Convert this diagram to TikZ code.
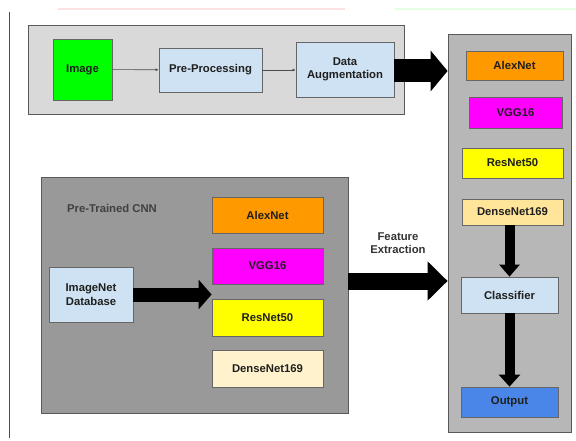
\documentclass[tikz,border=0pt]{standalone}
\usepackage{fontspec}
\setmainfont{Liberation Sans}
\usetikzlibrary{arrows.meta}
\definecolor{lightpanel}{HTML}{D9D9D9}
\definecolor{darkpanel}{HTML}{999999}
\definecolor{midpanel}{HTML}{B7B7B7}
\definecolor{paleblue}{HTML}{CFE2F3}
\definecolor{netorange}{HTML}{FF9900}
\definecolor{netpink}{HTML}{FF00FF}
\definecolor{netyellow}{HTML}{FFFF00}
\definecolor{densedark}{HTML}{FFE599}
\definecolor{denselight}{HTML}{FFF2CC}
\definecolor{outblue}{HTML}{4A86E8}
\begin{document}
\begin{tikzpicture}[x=1pt,y=-1pt,
	every node/.style={font=\fontsize{11.3}{13.5}\selectfont\bfseries, text=black!88},
	panel/.style={draw=black!65, line width=0.8pt, inner sep=0pt},
	block/.style={draw=black!60, line width=0.8pt, inner sep=0pt, align=center},
	thin/.style={draw=black!70, line width=0.6pt, -{Latex[length=3pt,width=3pt]}}]
	\useasboundingbox[fill=white] (0,0) rectangle (576,441);
	% faint strips and side rule
	\draw[red!12, line width=2.5pt] (58,9) -- (345,9);
	\draw[green!10, line width=2.5pt] (395,9) -- (576,9);
	\draw[black!70, line width=0.8pt] (9,12) -- (9,438);
	% panels
	\node[panel, fill=lightpanel, minimum width=376pt, minimum height=89pt] (input) at (216,69.5) {};
	\node[panel, fill=darkpanel, minimum width=307pt, minimum height=236pt] (cnn) at (194.5,295) {};
	\node[panel, fill=midpanel, minimum width=123pt, minimum height=398pt] (models) at (509.5,233) {};
	% input pipeline
	\node[block, fill=green, minimum width=59pt, minimum height=61pt] (img) at (82.5,69.5) {Image};
	\node[block, fill=paleblue, minimum width=103pt, minimum height=44pt] (prep) at (210.5,70) {Pre-Processing};
	\node[block, fill=paleblue, minimum width=98pt, minimum height=55pt] (aug) at (345,69.5) {Data\\Augmentation};
	\draw[thin] (img) -- (prep);
	\draw[thin] (prep) -- (aug.west |- prep.east);
	% pre-trained networks
	\node[text=black!75] (cnnlabel) at (112,208) {Pre-Trained CNN};
	\node[block, fill=paleblue, minimum width=84pt, minimum height=55pt] (imgnet) at (91,294.5) {ImageNet\\Database};
	\node[block, fill=netorange, minimum width=111pt, minimum height=36pt] (alexA) at (267.5,215) {AlexNet};
	\node[block, fill=netpink, minimum width=111pt, minimum height=36pt] (vggA) at (267.5,266) {VGG16};
	\node[block, fill=netyellow, minimum width=111pt, minimum height=37pt] (resA) at (267.5,317.5) {ResNet50};
	\node[block, fill=denselight, minimum width=111pt, minimum height=37pt] (denseA) at (267.5,368.5) {DenseNet169};
	% model column
	\node[block, fill=netorange, minimum width=97pt, minimum height=29pt] (alexB) at (514.5,65.5) {AlexNet};
	\node[block, fill=netpink, minimum width=93pt, minimum height=31pt] (vggB) at (515.5,112.5) {VGG16};
	\node[block, fill=netyellow, minimum width=101pt, minimum height=30pt] (resB) at (512.5,163) {ResNet50};
	\node[block, fill=densedark, minimum width=101pt, minimum height=26pt] (denseB) at (512.5,212) {DenseNet169};
	\node[block, fill=paleblue, minimum width=97pt, minimum height=36pt] (clf) at (509.5,295) {Classifier};
	\node[block, fill=outblue, minimum width=97pt, minimum height=30pt] (out) at (509.5,402) {Output};
	\node[align=center, text=black!80] (felabel) at (398,243) {Feature\\Extraction};
	% big arrows
	\coordinate (augout) at (394,71);
	\coordinate (feout) at (348,281);
	\draw[line width=23pt, -{Triangle[length=17pt,width=40pt]}] (augout) -- (augout -| models.west);
	\draw[line width=14pt, -{Triangle[length=13pt,width=29pt]}] (imgnet.east) -- (alexA.west |- imgnet.east);
	\draw[line width=17pt, -{Triangle[length=20pt,width=38pt]}] (feout) -- (feout -| models.west);
	\draw[line width=10pt, -{Triangle[length=12pt,width=20pt]}] (clf.north |- denseB.south) -- (clf.north);
	\draw[line width=10pt, -{Triangle[length=12pt,width=21pt]}] (clf.south) -- (out.north);
\end{tikzpicture}
\end{document}
